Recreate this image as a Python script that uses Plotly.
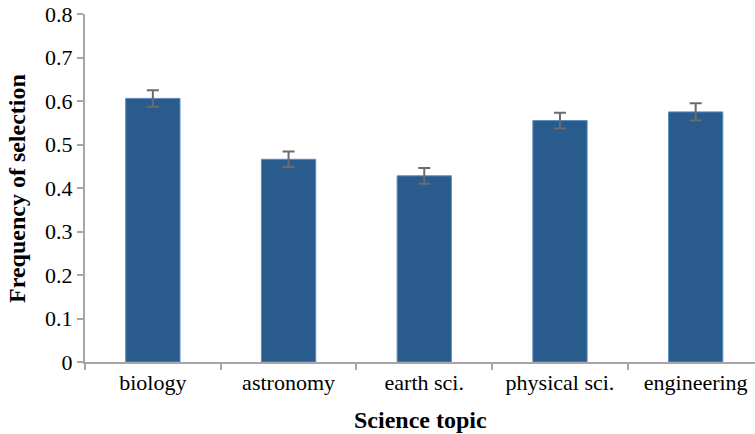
import plotly.graph_objects as go

topics = ["biology", "astronomy", "earth sci.", "physical sci.", "engineering"]
freq = [0.606, 0.466, 0.428, 0.555, 0.575]
err = [0.019, 0.018, 0.018, 0.018, 0.020]
y_ticks = [0, 0.1, 0.2, 0.3, 0.4, 0.5, 0.6, 0.7, 0.8]
y_tick_text = ["0", "0.1", "0.2", "0.3", "0.4", "0.5", "0.6", "0.7", "0.8"]

fig = go.Figure()
fig.add_trace(go.Bar(
    x=topics, y=freq, width=0.4,
    marker=dict(color="#295B8D", line=dict(color="#5A8CC2", width=1)),
    error_y=dict(type="data", array=err, visible=True, color="#6B6B6B", thickness=2, width=6),
))

font = "Liberation Serif, Times New Roman, serif"
fig.update_layout(
    width=755, height=434,
    margin=dict(l=85, r=0, t=14, b=72),
    paper_bgcolor="white", plot_bgcolor="white",
    showlegend=False,
    font=dict(family=font, size=22, color="black"),
    xaxis=dict(
        range=[-0.5, 4.437], showline=True, linecolor="#A6A6A6", linewidth=2,
        ticks="outside", tickson="boundaries", ticklen=6, tickcolor="#A6A6A6", tickwidth=2,
        tickfont=dict(family=font, size=22), showgrid=False, automargin=False,
    ),
    yaxis=dict(
        range=[0, 0.8], tickvals=y_ticks, ticktext=y_tick_text,
        showline=True, linecolor="#A6A6A6", linewidth=2,
        ticks="outside", ticklen=6, tickcolor="#A6A6A6", tickwidth=2,
        tickfont=dict(family=font, size=22), showgrid=False, zeroline=False, automargin=False,
        ticklabeloverflow="allow",
    ),
    annotations=[
        dict(text="<b>Frequency of selection</b>", xref="paper", yref="paper",
             x=-0.1015, y=0.5, xanchor="center", yanchor="middle", textangle=-90,
             showarrow=False, font=dict(family=font, size=24)),
        dict(text="<b>Science topic</b>", xref="paper", yref="paper",
             x=0.5, y=-0.166, xanchor="center", yanchor="middle",
             showarrow=False, font=dict(family=font, size=24)),
    ],
)

fig.write_html("out.html", config={"displayModeBar": False},
               post_script="document.body.style.margin='0';")
